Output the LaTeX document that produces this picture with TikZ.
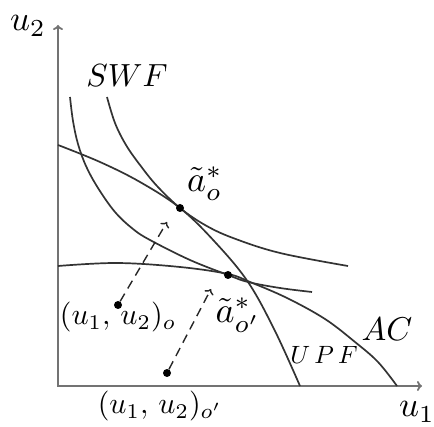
\documentclass[tikz,border=0pt]{standalone}
\usepackage{graphicx}
\usetikzlibrary{arrows.meta}
\begin{document}
\begin{tikzpicture}[x=1pt,y=1pt,
  curve/.style={line width=1.7pt, black!80},
  axis/.style={line width=1.8pt, black!55},
  dotpt/.style={circle, fill=black, inner sep=0pt, minimum size=8pt},
  dasharrow/.style={line width=1.4pt, black!85, dash pattern=on 9pt off 6pt, -{To[length=5pt,width=10pt]}},
  lbl/.style={inner sep=0pt, text=black}
]
\useasboundingbox (0,0) rectangle (434,426);
% axes
\coordinate (O) at (58,40);
\coordinate (Yend) at (58,401);
\coordinate (Xend) at (422,40);
\draw[axis, {To[length=5pt,width=10pt]}-{To[length=5pt,width=10pt]}] (Yend) -- (O) -- (Xend);
% UPF (concave)
\draw[curve] plot[smooth, tension=0.6] coordinates {(58,281) (100,264) (140,244) (180,218) (215,184) (248,144) (275,95) (300,40)};
% upper SWF (convex)
\draw[curve] plot[smooth, tension=0.6] coordinates {(107,329) (115,303) (126,281) (140,261) (157,240) (180,218) (205,201) (233,188) (280,173) (348,160)};
% lower SWF (convex)
\draw[curve] plot[smooth, tension=0.6] coordinates {(70,329) (73,305) (78,282) (86,260) (98,238) (115,214) (133,197) (150,186) (190,166) (228,151) (248,144) (280,138) (312,134)};
% AC (concave)
\draw[curve] plot[smooth, tension=0.6] coordinates {(58,160) (117,163) (180,159) (228,152) (250,144) (287,128) (325,107) (355,84) (378,64) (397,40)};
% points
\node[dotpt] (d1) at (180,218) {};
\node[dotpt] (d2) at (228,151) {};
\node[dotpt] (p1) at (118,121) {};
\node[dotpt] (p2) at (167,53) {};
\coordinate (t1) at (167,204);
\coordinate (t2) at (211,137);
\draw[dasharrow] (p1) -- (t1);
\draw[dasharrow] (p2) -- (t2);
% labels
\node[lbl] (lu2) at (28,400) {\scalebox{3.5}{$u_2$}};
\node[lbl] (lu1) at (417,14) {\scalebox{3.5}{$u_1$}};
\node[lbl] (lswf) at (127,350) {\scalebox{3.2}{$SWF$}};
\node[lbl] (la1) at (205,242) {\scalebox{3.6}{$\tilde a_o^*$}};
\node[lbl] (la2) at (238,111) {\scalebox{3.6}{$\tilde a_{o'}^*$}};
\node[lbl] (lp1) at (118,109) {\scalebox{3.0}{$(u_1,\,u_2)_o$}};
\node[lbl] (lp2) at (160,20) {\scalebox{3.0}{$(u_1,\,u_2)_{o'}$}};
\node[lbl] (lac) at (387,97) {\scalebox{3.3}{$AC$}};
\node[lbl] (lupf) at (324,71) {\scalebox{2.5}{$U\,P\,F$}};
\end{tikzpicture}
\end{document}
